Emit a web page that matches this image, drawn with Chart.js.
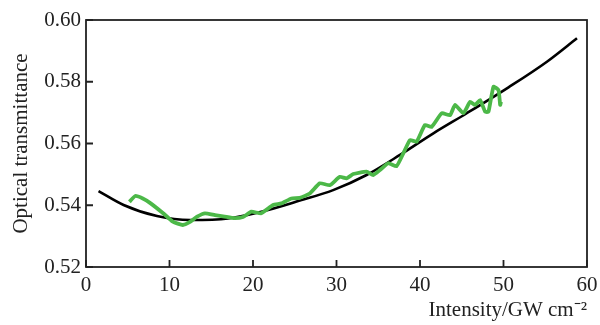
<!DOCTYPE html>
<html>
<head>
<meta charset="utf-8">
<script src="https://cdn.jsdelivr.net/npm/chart.js@4.4.1/dist/chart.umd.min.js"></script>
<style>
  html, body { margin: 0; padding: 0; background: #fff; }
  #wrap { width: 600px; height: 325px; position: relative; }
</style>
</head>
<body>
<div id="wrap"><canvas id="c" width="600" height="325"></canvas></div>
<script>
// Fitted curve (black)
const fitX = [1.5, 4.5, 8.5, 12.5, 17, 21, 25.6, 29.6, 33.6, 37.6, 41.6, 45.6, 50.6, 55.2, 58.8];
const fitY = [0.5446, 0.5401, 0.5365, 0.5352, 0.5357, 0.5379, 0.5415, 0.5449, 0.5498, 0.5563, 0.5633, 0.5698, 0.5782, 0.5865, 0.5941];

// Measured transmittance (green)
const expX = [5.2, 5.9, 6.8, 7.7, 9.2, 10.4, 11.6, 12.4, 13.3, 14.25, 15.45, 16.6, 17.8, 18.8, 19.8, 21.0, 22.4, 23.4, 24.6, 25.6,
              26.8, 28.0, 29.2, 30.4, 31.2, 32.0, 33.6, 34.4, 35.2, 36.2, 37.2, 38.0, 38.8, 39.6, 40.6, 41.4, 42.6, 43.6, 44.2,
              45.2, 46.0, 46.6, 47.2, 47.8, 48.2, 48.8, 49.4, 49.6, 49.7];
const expY = [0.5411, 0.5430, 0.5422, 0.5407, 0.5375, 0.5347, 0.5336, 0.5345, 0.5363, 0.5374, 0.5368, 0.5363, 0.5358, 0.5362, 0.5379, 0.5374, 0.5401, 0.5406, 0.5422, 0.5424,
              0.5438, 0.5471, 0.5465, 0.5492, 0.5487, 0.5501, 0.5509, 0.5498, 0.5514, 0.5536, 0.5527, 0.5568, 0.5611, 0.5606, 0.5660, 0.5654, 0.5698, 0.5692, 0.5725,
              0.5698, 0.5735, 0.5725, 0.5741, 0.5703, 0.5703, 0.5784, 0.5773, 0.5725, 0.5735];

const xTicks = [0, 10, 20, 30, 40, 50, 60];
const yTicks = [0.52, 0.54, 0.56, 0.58, 0.60];

const toPts = (xs, ys) => xs.map((x, i) => ({ x: x, y: ys[i] }));

const FONT = '"Liberation Serif", "Times New Roman", serif';

const frameTicks = {
  id: 'frameTicks',
  afterDraw(chart) {
    const { ctx, chartArea: a, scales } = chart;
    ctx.save();
    ctx.strokeStyle = '#222';
    ctx.lineWidth = 1.8;
    ctx.strokeRect(a.left, a.top, a.right - a.left, a.bottom - a.top);
    ctx.beginPath();
    xTicks.forEach(v => {
      const px = scales.x.getPixelForValue(v);
      ctx.moveTo(px, a.bottom);
      ctx.lineTo(px, a.bottom - 7);
    });
    yTicks.forEach(v => {
      const py = scales.y.getPixelForValue(v);
      ctx.moveTo(a.left, py);
      ctx.lineTo(a.left + 7, py);
    });
    ctx.stroke();
    ctx.restore();
  }
};

new Chart(document.getElementById('c'), {
  type: 'line',
  data: {
    datasets: [
      {
        label: 'Experiment',
        data: toPts(expX, expY),
        borderColor: '#4cb848',
        borderWidth: 3.8,
        pointRadius: 0,
        tension: 0.15,
        fill: false
      },
      {
        label: 'Fit',
        data: toPts(fitX, fitY),
        borderColor: '#000000',
        borderWidth: 2.6,
        pointRadius: 0,
        cubicInterpolationMode: 'monotone',
        fill: false
      }
    ]
  },
  options: {
    responsive: false,
    animation: false,
    devicePixelRatio: 1,
    layout: { padding: { top: 20, right: 13, left: 0, bottom: 0 } },
    plugins: { legend: { display: false }, tooltip: { enabled: false } },
    scales: {
      x: {
        type: 'linear',
        min: 0, max: 60,
        afterBuildTicks: s => { s.ticks = xTicks.map(v => ({ value: v })); },
        afterFit: s => { s.height = 58; s.paddingLeft = 0; s.paddingRight = 0; },
        grid: { display: false, drawTicks: false },
        border: { display: false },
        ticks: { color: '#222', font: { family: FONT, size: 21 }, padding: 6, maxRotation: 0 },
        title: {
          display: true, text: 'Intensity/GW cm\u207B\u00B2', align: 'end',
          color: '#222', font: { family: FONT, size: 21 }, padding: { top: 0, bottom: 2 }
        }
      },
      y: {
        type: 'linear',
        min: 0.52, max: 0.60,
        afterBuildTicks: s => { s.ticks = yTicks.map(v => ({ value: v })); },
        afterFit: s => { s.width = 86; s.paddingTop = 0; s.paddingBottom = 0; },
        grid: { display: false, drawTicks: false },
        border: { display: false },
        ticks: { color: '#222', font: { family: FONT, size: 21 }, padding: 5,
                 callback: v => Number(v).toFixed(2) },
        title: {
          display: true, text: 'Optical transmittance',
          color: '#222', font: { family: FONT, size: 21 }, padding: { top: 9, bottom: 0 }
        }
      }
    }
  },
  plugins: [frameTicks]
});
</script>
</body>
</html>
